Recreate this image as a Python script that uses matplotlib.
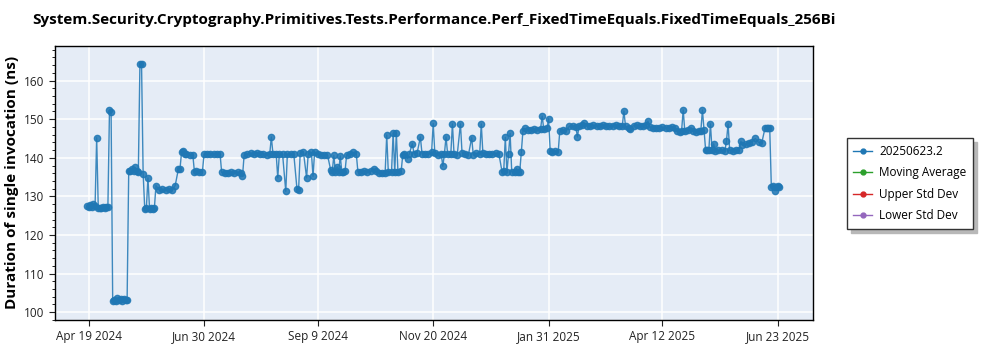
import matplotlib
matplotlib.use("Agg")
import matplotlib.pyplot as plt
from matplotlib.ticker import MultipleLocator
from matplotlib.lines import Line2D
import pandas as pd

plt.rcParams['font.family'] = ['Open Sans', 'DejaVu Sans']

# ---- data ----
title = "System.Security.Cryptography.Primitives.Tests.Performance.Perf_FixedTimeEquals.FixedTimeEquals_256Bi"
ylabel = "Duration of single invocation (ns)"
series_names = ["20250623.2", "Moving Average", "Upper Std Dev", "Lower Std Dev"]
series_colors = ["#1f77b4", "#2ca02c", "#d62728", "#9467bd"]

dates = [
    "2024-04-18", "2024-04-19", "2024-04-20", "2024-04-21", "2024-04-22", "2024-04-23", "2024-04-24", "2024-04-25",
    "2024-04-26", "2024-04-27", "2024-04-28", "2024-04-29", "2024-04-30", "2024-05-01", "2024-05-02", "2024-05-03",
    "2024-05-04", "2024-05-05", "2024-05-06", "2024-05-07", "2024-05-08", "2024-05-09", "2024-05-10", "2024-05-11",
    "2024-05-12", "2024-05-13", "2024-05-14", "2024-05-15", "2024-05-16", "2024-05-17", "2024-05-18", "2024-05-19",
    "2024-05-20", "2024-05-21", "2024-05-22", "2024-05-23", "2024-05-24", "2024-05-25", "2024-05-26", "2024-05-27",
    "2024-05-28", "2024-05-29", "2024-05-30", "2024-05-31", "2024-06-02", "2024-06-04", "2024-06-06", "2024-06-08",
    "2024-06-10", "2024-06-12", "2024-06-14", "2024-06-15", "2024-06-16", "2024-06-17", "2024-06-18", "2024-06-19",
    "2024-06-21", "2024-06-23", "2024-06-24", "2024-06-25", "2024-06-27", "2024-06-29", "2024-06-30", "2024-07-02",
    "2024-07-04", "2024-07-06", "2024-07-08", "2024-07-10", "2024-07-11", "2024-07-13", "2024-07-15", "2024-07-17",
    "2024-07-19", "2024-07-21", "2024-07-23", "2024-07-24", "2024-07-25", "2024-07-27", "2024-07-29", "2024-07-31",
    "2024-08-02", "2024-08-04", "2024-08-06", "2024-08-08", "2024-08-10", "2024-08-11", "2024-08-12", "2024-08-14",
    "2024-08-15", "2024-08-16", "2024-08-18", "2024-08-20", "2024-08-21", "2024-08-23", "2024-08-25", "2024-08-27",
    "2024-08-28", "2024-08-29", "2024-08-31", "2024-09-02", "2024-09-03", "2024-09-05", "2024-09-06", "2024-09-07",
    "2024-09-09", "2024-09-11", "2024-09-13", "2024-09-15", "2024-09-17", "2024-09-18", "2024-09-19", "2024-09-20",
    "2024-09-21", "2024-09-22", "2024-09-23", "2024-09-24", "2024-09-25", "2024-09-26", "2024-09-27", "2024-09-29",
    "2024-10-01", "2024-10-03", "2024-10-04", "2024-10-06", "2024-10-08", "2024-10-10", "2024-10-12", "2024-10-14",
    "2024-10-15", "2024-10-17", "2024-10-19", "2024-10-21", "2024-10-22", "2024-10-23", "2024-10-25", "2024-10-26",
    "2024-10-27", "2024-10-28", "2024-10-29", "2024-10-31", "2024-11-01", "2024-11-02", "2024-11-04", "2024-11-05",
    "2024-11-07", "2024-11-08", "2024-11-10", "2024-11-12", "2024-11-13", "2024-11-15", "2024-11-17", "2024-11-19",
    "2024-11-20", "2024-11-21", "2024-11-23", "2024-11-25", "2024-11-26", "2024-11-27", "2024-11-28", "2024-11-29",
    "2024-12-01", "2024-12-02", "2024-12-03", "2024-12-05", "2024-12-07", "2024-12-08", "2024-12-10", "2024-12-12",
    "2024-12-14", "2024-12-15", "2024-12-17", "2024-12-19", "2024-12-20", "2024-12-21", "2024-12-23", "2024-12-25",
    "2024-12-27", "2024-12-29", "2024-12-31", "2025-01-02", "2025-01-03", "2025-01-04", "2025-01-05", "2025-01-06",
    "2025-01-07", "2025-01-08", "2025-01-10", "2025-01-11", "2025-01-12", "2025-01-13", "2025-01-14", "2025-01-15",
    "2025-01-16", "2025-01-18", "2025-01-20", "2025-01-22", "2025-01-24", "2025-01-26", "2025-01-27", "2025-01-28",
    "2025-01-30", "2025-01-31", "2025-02-01", "2025-02-02", "2025-02-04", "2025-02-06", "2025-02-07", "2025-02-09",
    "2025-02-11", "2025-02-13", "2025-02-15", "2025-02-17", "2025-02-18", "2025-02-19", "2025-02-21", "2025-02-22",
    "2025-02-24", "2025-02-26", "2025-02-28", "2025-03-02", "2025-03-04", "2025-03-06", "2025-03-08", "2025-03-10",
    "2025-03-12", "2025-03-14", "2025-03-16", "2025-03-18", "2025-03-19", "2025-03-20", "2025-03-22", "2025-03-23",
    "2025-03-25", "2025-03-27", "2025-03-29", "2025-03-31", "2025-04-02", "2025-04-03", "2025-04-04", "2025-04-06",
    "2025-04-08", "2025-04-10", "2025-04-12", "2025-04-14", "2025-04-16", "2025-04-18", "2025-04-20", "2025-04-21",
    "2025-04-23", "2025-04-24", "2025-04-25", "2025-04-26", "2025-04-28", "2025-04-30", "2025-05-01", "2025-05-03",
    "2025-05-05", "2025-05-06", "2025-05-07", "2025-05-08", "2025-05-09", "2025-05-10", "2025-05-11", "2025-05-12",
    "2025-05-13", "2025-05-14", "2025-05-15", "2025-05-17", "2025-05-19", "2025-05-21", "2025-05-22", "2025-05-23",
    "2025-05-24", "2025-05-26", "2025-05-28", "2025-05-30", "2025-05-31", "2025-06-01", "2025-06-03", "2025-06-05",
    "2025-06-07", "2025-06-09", "2025-06-11", "2025-06-13", "2025-06-15", "2025-06-16", "2025-06-17", "2025-06-18",
    "2025-06-19", "2025-06-20", "2025-06-21", "2025-06-22", "2025-06-23", "2025-06-24",
]

durations = [
    127.5, 127.2, 127.8, 127.3, 128.0, 127.4, 145.2, 127.0,
    126.9, 127.1, 127.2, 127.0, 127.3, 127.2, 152.4, 151.8,
    103.0, 103.2, 102.9, 103.6, 103.1, 103.3, 103.0, 103.5,
    103.1, 103.2, 136.5, 136.6, 137.2, 136.5, 137.5, 136.6,
    136.4, 164.4, 164.4, 135.9, 126.8, 126.9, 134.8, 126.8,
    127.0, 126.8, 126.9, 132.8, 131.7, 131.8, 131.6, 131.8,
    131.7, 132.8, 137.1, 137.2, 141.5, 141.7, 141.1, 140.9,
    140.8, 140.7, 136.4, 136.5, 136.3, 136.4, 141.0, 141.0,
    141.1, 141.0, 141.0, 141.0, 136.2, 136.1, 136.0, 136.2,
    136.1, 136.3, 136.0, 135.2, 140.6, 141.0, 141.2, 141.0,
    141.3, 140.9, 141.1, 140.7, 141.0, 145.4, 141.0, 141.1,
    134.8, 141.0, 141.0, 131.3, 141.0, 140.9, 141.0, 131.9,
    131.7, 141.2, 141.6, 134.8, 141.0, 141.4, 135.2, 141.5,
    141.0, 140.6, 140.7, 140.8, 136.9, 136.4, 140.6, 136.3,
    137.7, 136.4, 140.5, 136.2, 136.4, 136.6, 140.8, 141.0,
    141.4, 141.1, 136.4, 136.3, 136.6, 136.2, 136.5, 137.0,
    136.5, 136.0, 136.1, 136.0, 145.9, 136.2, 136.4, 146.4,
    136.3, 146.5, 136.3, 136.5, 140.7, 141.0, 139.8, 140.9,
    143.7, 141.1, 141.3, 145.4, 141.1, 141.0, 140.9, 141.4,
    148.9, 141.3, 140.8, 141.0, 137.8, 141.0, 145.4, 141.0,
    141.1, 148.8, 141.0, 140.8, 148.8, 141.2, 141.0, 140.8,
    145.2, 140.8, 141.2, 141.0, 148.8, 141.2, 141.0, 141.1,
    141.0, 141.2, 141.0, 136.3, 136.5, 145.3, 136.2, 141.0,
    146.3, 136.4, 136.3, 137.2, 136.2, 136.4, 141.5, 147.0,
    147.6, 147.2, 147.3, 147.4, 147.2, 147.5, 150.8, 147.4,
    147.6, 150.1, 141.8, 141.6, 141.7, 141.5, 147.0, 147.1,
    147.0, 148.2, 148.3, 148.1, 145.4, 148.2, 148.4, 149.0,
    148.3, 148.2, 148.4, 148.3, 148.2, 148.4, 148.3, 148.2,
    148.3, 148.4, 148.2, 148.3, 152.1, 148.2, 147.6, 147.5,
    148.3, 148.4, 148.2, 148.3, 148.4, 149.5, 148.0, 147.8,
    147.7, 147.8, 147.9, 147.7, 147.8, 148.0, 147.6, 146.9,
    146.8, 147.0, 152.4, 146.9, 147.1, 147.8, 146.9, 146.8,
    147.0, 146.9, 152.4, 147.1, 142.0, 141.9, 142.0, 148.8,
    141.9, 143.6, 141.8, 141.9, 142.0, 141.8, 144.3, 148.8,
    141.9, 141.8, 142.0, 141.9, 144.3, 143.2, 143.6, 143.8,
    144.2, 145.0, 144.0, 143.8, 147.6, 147.7, 147.6, 147.6,
    132.5, 132.6, 131.5, 132.4, 132.6, 132.4,
]

tick_dates = ["2024-04-19", "2024-06-30", "2024-09-09", "2024-11-20", "2025-01-31", "2025-04-12", "2025-06-23"]
tick_labels = ["Apr 19 2024", "Jun 30 2024", "Sep 9 2024", "Nov 20 2024", "Jan 31 2025", "Apr 12 2025", "Jun 23 2025"]

x = pd.to_datetime(dates)

fig = plt.figure(figsize=(10, 3.5), dpi=100)
ax = fig.add_axes([0.055, 0.086, 0.758, 0.783])
ax.set_facecolor("#E5ECF6")

ax.plot(x, durations, color=series_colors[0], linewidth=1.0, marker="o",
        markersize=4.5, alpha=0.85, zorder=3)

ax.set_xlim(pd.Timestamp("2024-03-29"), pd.Timestamp("2025-07-15"))
ax.set_ylim(98, 169)
ax.set_xticks(pd.to_datetime(tick_dates))
ax.set_xticklabels(tick_labels)
ax.yaxis.set_major_locator(MultipleLocator(10))
ax.yaxis.set_minor_locator(MultipleLocator(2))
ax.grid(True, which="major", color="white", linewidth=1.1)
ax.set_axisbelow(True)
for s in ax.spines.values():
    s.set_color("black")
    s.set_linewidth(1.0)
ax.tick_params(axis="both", labelsize=8.5, colors="#222222", length=4)
ax.tick_params(axis="y", which="minor", length=2)

ax.set_title(title, fontsize=11, fontweight="bold", pad=16)
ax.set_ylabel(ylabel, fontsize=11, fontweight="bold", labelpad=4)

handles = [Line2D([0], [0], color=c, marker="o", markersize=3.5, linewidth=1) for c in series_colors]
leg = fig.legend(handles, series_names, loc="upper left", bbox_to_anchor=(0.847, 0.605),
                 borderaxespad=0, fontsize=8.5, frameon=True, fancybox=False,
                 shadow={"color": "0.72", "alpha": 1.0, "ox": 3, "oy": -3},
                 edgecolor="#333333", labelspacing=0.72, handlelength=1.6,
                 handletextpad=0.6, borderpad=0.55)
leg.get_frame().set_linewidth(1.0)

fig.savefig("out.png", dpi=100)
